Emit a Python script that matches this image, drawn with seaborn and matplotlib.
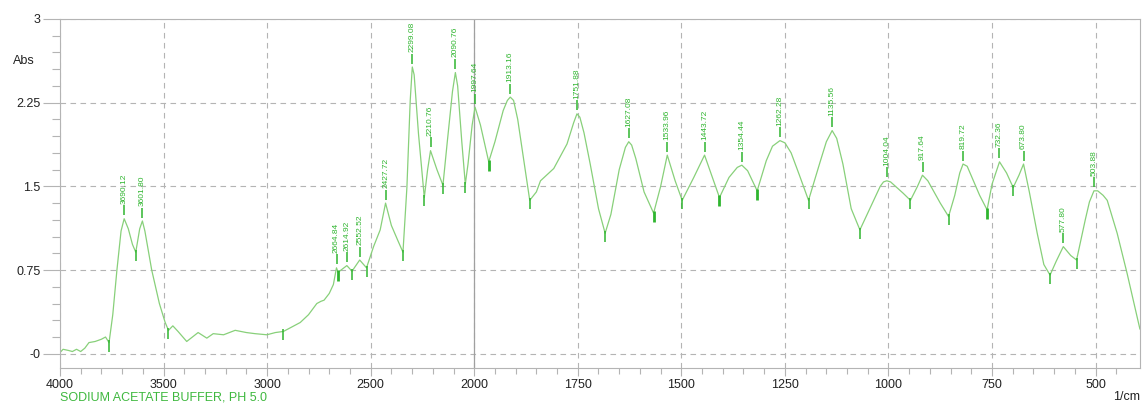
import numpy as np
import pandas as pd
import matplotlib
matplotlib.use("Agg")
import matplotlib.pyplot as plt
import seaborn as sns

# spectrum (wavenumber 1/cm, Abs)
wavenumber = [4000, 3985, 3960, 3940, 3920, 3900, 3880, 3860, 3830, 3800, 3780, 3763,
              3745, 3725, 3705, 3690, 3670, 3650, 3634, 3615, 3602, 3590, 3557, 3520,
              3492, 3476, 3455, 3430, 3388, 3333, 3291, 3260, 3210, 3154, 3100, 3058,
              3001, 2960, 2921, 2880, 2840, 2800, 2760, 2740, 2725, 2700, 2680, 2665,
              2657, 2615, 2590, 2553, 2520, 2486, 2454, 2428, 2400, 2370, 2344, 2325,
              2309, 2299, 2290, 2269, 2241, 2225, 2211, 2180, 2151, 2130, 2105, 2091,
              2080, 2060, 2043, 2030, 2010, 1998, 1985, 1965, 1950, 1930, 1920, 1913,
              1905, 1895, 1885, 1866, 1850, 1840, 1808, 1776, 1760, 1752, 1745, 1735,
              1720, 1700, 1684, 1670, 1650, 1635, 1627, 1620, 1610, 1590, 1567, 1550,
              1534, 1515, 1498, 1470, 1444, 1425, 1408, 1385, 1365, 1354, 1340, 1317,
              1295, 1280, 1262, 1250, 1235, 1215, 1193, 1165, 1150, 1136, 1125, 1110,
              1090, 1069, 1045, 1020, 1012, 1004, 995, 980, 965, 947, 930, 918, 905,
              875, 855, 840, 828, 820, 810, 795, 780, 762, 750, 732, 715, 699, 685,
              674, 660, 641, 625, 610, 595, 578, 560, 546, 525, 515, 504, 495, 482,
              472, 448, 424, 393]
absorbance = [0.01, 0.04, 0.03, 0.02, 0.04, 0.02, 0.05, 0.10, 0.11, 0.13, 0.15, 0.10,
              0.35, 0.75, 1.10, 1.21, 1.12, 0.98, 0.91, 1.12, 1.19, 1.10, 0.75, 0.45,
              0.28, 0.21, 0.25, 0.20, 0.11, 0.19, 0.14, 0.18, 0.17, 0.21, 0.19, 0.18,
              0.17, 0.19, 0.20, 0.24, 0.28, 0.35, 0.45, 0.47, 0.48, 0.54, 0.62, 0.77,
              0.73, 0.79, 0.74, 0.84, 0.77, 0.96, 1.11, 1.35, 1.15, 1.02, 0.91, 1.49,
              2.27, 2.57, 2.50, 1.97, 1.40, 1.65, 1.82, 1.65, 1.51, 1.90, 2.35, 2.52,
              2.40, 1.90, 1.52, 1.70, 2.05, 2.21, 2.05, 1.72, 1.90, 2.18, 2.27, 2.30,
              2.27, 2.10, 1.85, 1.375, 1.45, 1.55, 1.66, 1.88, 2.07, 2.15, 2.12, 1.98,
              1.70, 1.30, 1.08, 1.25, 1.65, 1.85, 1.90, 1.87, 1.75, 1.45, 1.26, 1.50,
              1.78, 1.55, 1.375, 1.58, 1.78, 1.58, 1.40, 1.58, 1.67, 1.69, 1.64, 1.46,
              1.73, 1.86, 1.91, 1.89, 1.80, 1.60, 1.375, 1.72, 1.90, 2.00, 1.93, 1.70,
              1.30, 1.11, 1.30, 1.50, 1.54, 1.55, 1.54, 1.49, 1.44, 1.375, 1.50, 1.60, 1.55,
              1.35, 1.23, 1.42, 1.62, 1.70, 1.68, 1.55, 1.42, 1.29, 1.52, 1.72, 1.62, 1.49, 1.60,
              1.70, 1.45, 1.08, 0.80, 0.705, 0.83, 0.96, 0.88, 0.84, 1.20, 1.36, 1.46, 1.46, 1.42,
              1.375, 1.08, 0.72, 0.22]

peak_wn = [3690.12, 3601.80, 2664.84, 2614.92, 2552.52, 2427.72, 2299.08, 2210.76,
           2090.76, 1997.64, 1913.16, 1751.88, 1627.08, 1533.96, 1443.72, 1354.44,
           1262.28, 1135.56, 1004.04, 917.64, 819.72, 732.36, 673.80, 577.80, 503.88]
peak_abs = [1.21, 1.19, 0.77, 0.79, 0.84, 1.35, 2.57, 1.82, 2.52, 2.21, 2.30, 2.15,
            1.90, 1.78, 1.78, 1.69, 1.91, 2.00, 1.55, 1.60, 1.70, 1.72, 1.70, 0.96, 1.46]
peak_labels = ["%.2f" % w for w in peak_wn]

valley_wn = [3763, 3634, 3476, 2921, 2657, 2590, 2520, 2344, 2241, 2151, 2043, 1965,
             1866, 1684, 1567, 1498, 1408, 1317, 1193, 1069, 947, 855, 762, 699, 610, 546]
valley_abs = [0.10, 0.91, 0.21, 0.20, 0.73, 0.74, 0.77, 0.91, 1.40, 1.51, 1.52, 1.72,
              1.375, 1.08, 1.26, 1.375, 1.40, 1.46, 1.375, 1.11, 1.375, 1.23, 1.29, 1.49, 0.705, 0.84]
valley_thick = [2657, 1965, 1567, 1408, 1317, 762]

x_major = [4000, 3500, 3000, 2500, 2000, 1750, 1500, 1250, 1000, 750, 500]
y_major = [0, 0.75, 1.5, 2.25, 3]
y_labels = ["-0", "0.75", "1.5", "2.25", "3"]

LINE = "#88d07a"
MARK = "#2fb52f"
GRID = "#b4b4b4"


def fwd(x):
    x = np.asarray(x, dtype=float)
    return np.where(x > 2000, 2000 + (x - 2000) / 2.0, x)


def inv(u):
    u = np.asarray(u, dtype=float)
    return np.where(u > 2000, 2000 + (u - 2000) * 2.0, u)


sns.set_theme(style="white")
plt.rcParams["font.family"] = ["Liberation Sans", "DejaVu Sans"]

df = pd.DataFrame({"wn": wavenumber, "abs": absorbance})

fig = plt.figure(figsize=(11.42, 4.03), dpi=100)
ax = fig.add_axes([0.0525, 0.0876, 0.9457, 0.8653])

sns.lineplot(data=df, x="wn", y="abs", ax=ax, color=LINE, lw=0.9, sort=False)

ax.set_xscale("function", functions=(fwd, inv))
ax.set_xlim(4000, 393)
ax.set_ylim(-0.125, 3.0)

ax.set_xticks(x_major)
ax.set_xticklabels([str(v) for v in x_major])
minor_x = [v for v in range(3900, 2000, -100) if v not in x_major] + \
          [v for v in range(1950, 400, -50) if v not in x_major]
ax.set_xticks(minor_x, minor=True)
ax.set_yticks(y_major)
ax.set_yticklabels(y_labels)
ax.set_yticks([v * 0.15 for v in range(1, 20) if v % 5 != 0], minor=True)

ax.tick_params(axis="y", which="major", direction="out", length=12, width=0.8,
               color=GRID, labelsize=9, labelcolor="#222222", pad=2, left=True)
ax.tick_params(axis="y", which="minor", direction="out", length=6, width=0.8,
               color=GRID, left=True)
ax.tick_params(axis="x", which="major", direction="out", length=6, width=0.8,
               color=GRID, labelsize=9, labelcolor="#222222", pad=2, bottom=True)
ax.tick_params(axis="x", which="minor", direction="out", length=4, width=0.8,
               color=GRID, bottom=True)

ax.set_xlabel("")
ax.set_ylabel("")
for s in ax.spines.values():
    s.set_color(GRID)
    s.set_linewidth(0.8)

ax.grid(True, which="major", color=GRID, linestyle=(0, (5, 4)), linewidth=0.8)
ax.axvline(2000, color="#a0a0a0", lw=0.9, zorder=1)

# peak ticks and labels
ax.vlines(peak_wn, [a + 0.03 for a in peak_abs], [a + 0.12 for a in peak_abs],
          color=MARK, lw=1.1)
for w, a, t in zip(peak_wn, peak_abs, peak_labels):
    ax.text(w, a + 0.135, t, rotation=90, ha="center", va="bottom",
            fontsize=6, color=MARK, clip_on=False)

# valley ticks
for w, a in zip(valley_wn, valley_abs):
    lw = 2.0 if w in valley_thick else 1.1
    ax.vlines(w, a - 0.08, a + 0.02, color=MARK, lw=lw)

fig.text(13 / 1142, 1 - 61 / 403, "Abs", fontsize=9, color="#222222", va="center")
fig.text(60 / 1142, 1 - 397 / 403, "SODIUM ACETATE BUFFER, PH 5.0", fontsize=9,
         color="#3fb83f", va="center")
fig.text(1140 / 1142, 1 - 397 / 403, "1/cm", fontsize=9, color="#222222",
         va="center", ha="right")

fig.savefig("out.png", dpi=100)
